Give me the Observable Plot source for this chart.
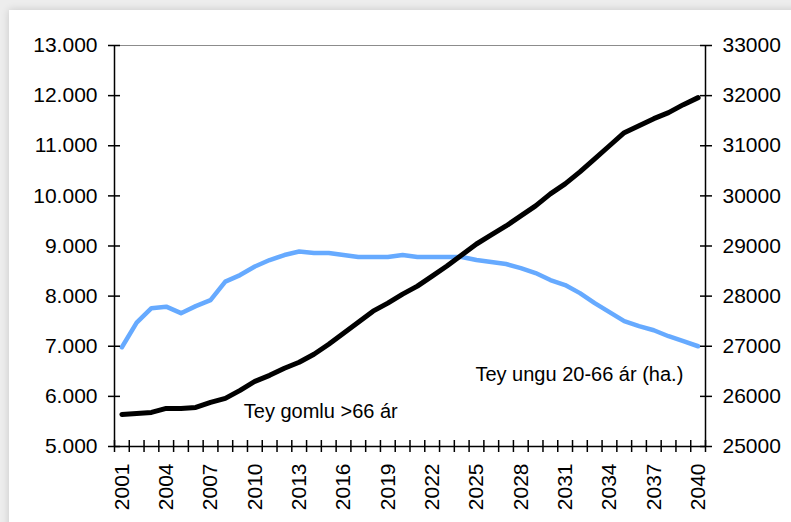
<!DOCTYPE html>
<html><head><meta charset="utf-8">
<script src="https://cdn.jsdelivr.net/npm/d3@7"></script>
<script src="https://cdn.jsdelivr.net/npm/@observablehq/plot@0.6"></script>
<style>
html,body{margin:0;padding:0;background:#ededed;width:791px;height:522px;overflow:hidden}
#card{position:absolute;left:9px;top:10px;width:800px;height:530px;background:#fff;box-shadow:0 0 8px rgba(0,0,0,0.16)}
#chart{position:absolute;left:0;top:0}
</style></head><body><div id="card"></div><div id="chart"></div>
<script>
const years = [2001,2002,2003,2004,2005,2006,2007,2008,2009,2010,2011,2012,2013,2014,2015,2016,2017,2018,2019,2020,2021,2022,2023,2024,2025,2026,2027,2028,2029,2030,2031,2032,2033,2034,2035,2036,2037,2038,2039,2040];
// Tey gomlu >66 ár (left axis)
const older = [5640,5660,5680,5760,5760,5780,5880,5960,6120,6300,6420,6560,6680,6840,7040,7260,7480,7700,7860,8040,8200,8400,8600,8820,9040,9220,9400,9600,9800,10040,10240,10480,10740,11000,11260,11400,11540,11660,11820,11960];
// Tey ungu 20-66 ár (right axis)
const younger = [26980,27470,27760,27790,27660,27800,27920,28290,28420,28590,28720,28820,28890,28860,28860,28820,28780,28780,28780,28820,28780,28780,28780,28780,28720,28680,28640,28560,28460,28320,28220,28060,27860,27680,27500,27400,27320,27200,27100,27000];
const leftTicks = [5000,6000,7000,8000,9000,10000,11000,12000,13000];
const rightTicks = [25000,26000,27000,28000,29000,30000,31000,32000,33000];
const yearLabels = [2001,2004,2007,2010,2013,2016,2019,2022,2025,2028,2031,2034,2037,2040];
const labelOld = "Tey gomlu >66 ár";
const labelYoung = "Tey ungu 20-66 ár (ha.)";

const offset = 20000; // right axis value -> left axis value
const oldData = years.map((y,i)=>({year:y, v:older[i]}));
const youngData = years.map((y,i)=>({year:y, v:younger[i]-offset}));
const catEdges = [years[0]-0.5, ...years.map(y=>y+0.5)];
const fmtLeft = d => d3.format(",")(d).replace(",", ".");
const font = "Liberation Sans, Arial, sans-serif";

const plot = Plot.plot({
  width: 791, height: 522,
  marginLeft: 114, marginRight: 86, marginTop: 45, marginBottom: 76,
  style: {fontFamily: font, fontSize: "21px", color: "#000", background: "transparent"},
  x: {type: "linear", domain: [years[0]-0.5, years[years.length-1]+0.5], label: null},
  y: {domain: [leftTicks[0], leftTicks[leftTicks.length-1]], label: null},
  marks: [
    Plot.ruleY([leftTicks[leftTicks.length-1]], {stroke: "#8c8c8c", strokeWidth: 1}),
    Plot.line(youngData, {x: "year", y: "v", stroke: "#66aaff", strokeWidth: 4.5, strokeLinejoin: "round", strokeLinecap: "round"}),
    Plot.line(oldData, {x: "year", y: "v", stroke: "#000", strokeWidth: 5, strokeLinejoin: "round", strokeLinecap: "round"}),
    Plot.ruleX([catEdges[0], catEdges[catEdges.length-1]], {stroke: "#000", strokeWidth: 1.5}),
    Plot.ruleY([leftTicks[0]], {stroke: "#000", strokeWidth: 1.5}),
    // crossing tick marks
    Plot.axisY(leftTicks, {anchor: "left", tickSize: 12, dx: 6, tickFormat: () => "", strokeWidth: 1.5, label: null}),
    Plot.axisY(leftTicks, {anchor: "right", tickSize: 12, dx: -6, tickFormat: () => "", strokeWidth: 1.5, label: null}),
    Plot.axisX(catEdges, {anchor: "bottom", tickSize: 12, dy: -6, tickFormat: () => "", strokeWidth: 1.5, label: null}),
    // labels
    Plot.axisY(leftTicks, {anchor: "left", tickSize: 0, tickPadding: 17, tickFormat: fmtLeft, label: null}),
    Plot.axisY(rightTicks.map(v=>v-offset), {anchor: "right", tickSize: 0, tickPadding: 17, tickFormat: d => String(d+offset), label: null}),
    Plot.axisX(yearLabels, {anchor: "bottom", tickSize: 0, tickPadding: 17, tickRotate: -90, tickFormat: d => String(d), label: null}),
    Plot.text([labelOld], {x: 2009.25, y: 5560, text: d => d, textAnchor: "start", lineAnchor: "bottom", fontSize: 20, fill: "#000"}),
    Plot.text([labelYoung], {x: 2039.0, y: 6300, text: d => d, textAnchor: "end", lineAnchor: "bottom", fontSize: 20, fill: "#000"})
  ]
});
document.getElementById("chart").appendChild(plot);
</script>
</body></html>
